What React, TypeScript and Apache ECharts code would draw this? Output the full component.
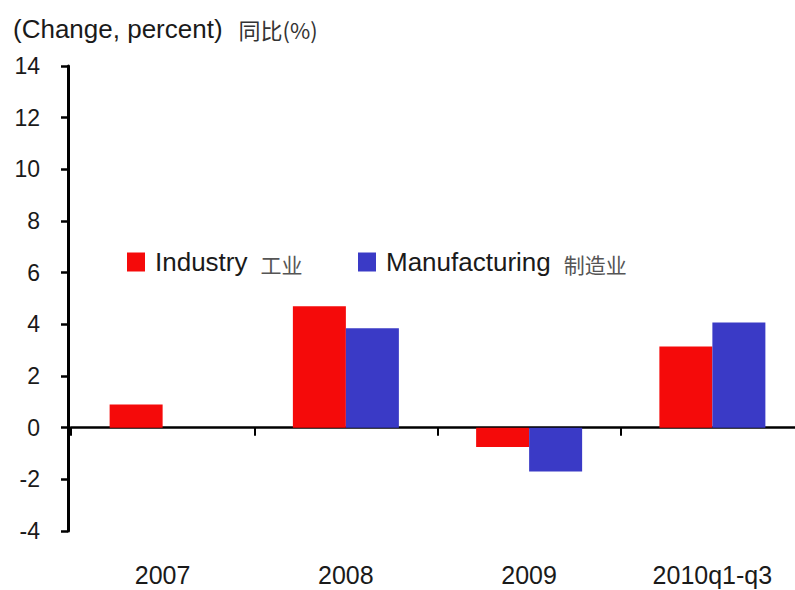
import React, { useEffect, useRef } from "react";
import * as echarts from "echarts";

const categories = ["2007", "2008", "2009", "2010q1-q3"];
const industry = [0.9, 4.7, -0.75, 3.14];
const manufacturing = [0, 3.85, -1.7, 4.07];
const seriesNames = ["Industry", "Manufacturing"];
const seriesNamesZh = ["工业", "制造业"];
const yTicks = { min: -4, max: 14, step: 2 };

const FONT = "Liberation Sans, Arial, sans-serif";
const CJK = "Noto Sans CJK SC";

export default function App() {
  const ref = useRef<HTMLDivElement>(null);
  useEffect(() => {
    const chart = echarts.init(ref.current!, undefined, { renderer: "svg" });
    const zh: Record<string, string> = {};
    seriesNames.forEach((n, i) => (zh[n] = seriesNamesZh[i]));
    const legendText = {
      rich: {
        a: { fontSize: 26, fontFamily: FONT, color: "#1a1a1a", padding: [0, 0, 0, 5] },
        b: { fontSize: 21, fontFamily: CJK, color: "#555", padding: [3, 0, 0, 13] },
      },
    };
    const mkLegend = (name: string, left: number) => ({
      left,
      top: 249,
      padding: 0,
      itemWidth: 18,
      itemHeight: 19,
      itemGap: 10,
      icon: "rect",
      data: [name],
      formatter: (n: string) => `{a|${n}}{b|${zh[n]}}`,
      textStyle: legendText,
    });
    chart.setOption({
      animation: false,
      backgroundColor: "#ffffff",
      title: {
        text: "{a|(Change, percent)}{b|同比(%)}",
        left: 8,
        top: 11,
        textStyle: {
          fontWeight: "normal",
          rich: {
            a: { fontSize: 26, fontFamily: FONT, color: "#1a1a1a", fontWeight: "normal" },
            b: { fontSize: 22, fontFamily: CJK, color: "#333", fontWeight: "normal", padding: [0, 0, 0, 16] },
          },
        },
      },
      legend: [mkLegend(seriesNames[0], 127), mkLegend(seriesNames[1], 358)],
      grid: { left: 71, top: 66, width: 733, height: 465, outerBoundsMode: "none" },
      xAxis: [
        {
          type: "category",
          data: categories,
          axisLine: { onZero: true, lineStyle: { color: "#000", width: 2.5 } },
          axisTick: { show: true, length: 8, lineStyle: { color: "#000", width: 2 } },
          axisLabel: { show: false },
        },
        {
          type: "category",
          data: categories,
          position: "bottom",
          axisLine: { show: false },
          axisTick: { show: false },
          axisLabel: { margin: 31, fontSize: 25, fontFamily: FONT, color: "#1a1a1a" },
        },
      ],
      yAxis: {
        type: "value",
        min: yTicks.min,
        max: yTicks.max,
        interval: yTicks.step,
        offset: 3,
        splitLine: { show: false },
        axisLine: { show: true, lineStyle: { color: "#000", width: 3 } },
        axisTick: { show: true, length: 7, lineStyle: { color: "#000", width: 2.5 } },
        axisLabel: { fontSize: 23, fontFamily: FONT, color: "#1a1a1a", margin: 28 },
      },
      series: [
        {
          name: seriesNames[0],
          type: "bar",
          data: industry,
          barWidth: 53,
          barGap: "0%",
          itemStyle: { color: "#f50a0a" },
        },
        {
          name: seriesNames[1],
          type: "bar",
          data: manufacturing,
          barWidth: 53,
          barGap: "0%",
          itemStyle: { color: "#3a3ac6" },
        },
      ],
    });
    return () => chart.dispose();
  }, []);
  return <div ref={ref} style={{ width: 795, height: 590, position: "absolute", left: 0, top: 0 }} />;
}
